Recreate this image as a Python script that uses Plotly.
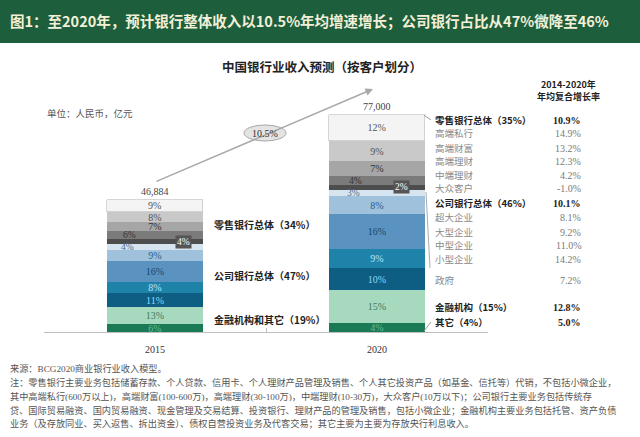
import plotly.graph_objects as go

# ---------------- data ----------------
years = ["2015", "2020"]
totals = [46884, 77000]
total_labels = ["46,884", "77,000"]
# segments, stacked bottom -> top
segments = ["其它", "金融机构", "政府", "小型企业", "中型企业", "大型企业",
            "超大企业", "大众客户", "中端理财", "高端理财", "高端财富", "高端私行"]
pct_2015 = [6, 13, 11, 8, 16, 9, 4, 4, 6, 7, 8, 9]
pct_2020 = [4, 15, 10, 9, 16, 8, 3, 2, 4, 7, 9, 12]
group_labels_2015 = ["零售银行总体（34%）", "公司银行总体（47%）", "金融机构和其它（19%）"]
cagr_rate = "10.5%"
list_header = ["2014-2020年", "年均复合增长率"]
list_labels = ["零售银行总体（35%）", "高端私行", "高端财富", "高端理财", "中端理财", "大众客户",
               "公司银行总体（46%）", "超大企业", "大型企业", "中型企业", "小型企业", "政府",
               "金融机构（15%）", "其它（4%）"]
list_values = ["10.9%", "14.9%", "13.2%", "12.3%", "4.2%", "-1.0%", "10.1%", "8.1%", "9.2%",
               "11.0%", "14.2%", "7.2%", "12.8%", "5.0%"]
list_bold = [True, False, False, False, False, False, True, False, False, False, False, False, True, True]

# ---------------- style ----------------
seg_colors = ["#1b7a56", "#a7d9bf", "#0e5d83", "#1f83a9", "#5a93bf", "#9fc1dc",
              "#d6e4ef", "#4d4d4d", "#7b7b7b", "#a6a6a6", "#c9c9c9", "#f4f4f4"]
seg_text_colors = ["#5fbf90", "#3f7a5f", "#8fd8f5", "#b5e3f5", "#17456e", "#2a5c8c",
                   "#4a6f92", "#ffffff", "#333333", "#333333", "#555555", "#555555"]
# small segments labelled outside the centre: (year index, segment index) -> xshift, boxed
callouts = {(0, 8): (-26, False), (0, 7): (28, True), (0, 6): (-28, False),
            (1, 8): (-22, False), (1, 7): (24, True), (1, 6): (-24, False)}
row_y_px = [120, 133, 148, 161, 175, 188, 203, 217, 232, 245, 259, 280, 307, 322]
header_y_px = [84, 96]

SERIF = "Liberation Serif, Noto Sans CJK SC, serif"
CJK = "Noto Sans CJK SC, Liberation Serif, sans-serif"

W, H = 640, 437
L, R, T, B = 44, 488, 70, 332
Y_MAX = 93000


def px(x):
    return (x - L) / (R - L)


def py(y):
    return (B - y) / (B - T)


pcts = [pct_2015, pct_2020]
values = [[totals[i] * p / sum(pcts[i]) for p in pcts[i]] for i in range(2)]

fig = go.Figure()
annotations = []
for j, seg in enumerate(segments):
    texts = []
    for i in range(2):
        if (i, j) in callouts:
            texts.append("")
        else:
            texts.append(f"{pcts[i][j]}%")
    fig.add_trace(go.Bar(
        x=years, y=[values[0][j], values[1][j]], name=seg,
        marker=dict(color=seg_colors[j],
                    line=dict(color="#bbbbbb" if j == len(segments) - 1 else seg_colors[j],
                              width=0.6 if j == len(segments) - 1 else 0)),
        text=texts, textposition="inside", insidetextanchor="middle", textangle=0,
        textfont=dict(family=SERIF, size=10, color=seg_text_colors[j]),
        width=0.43, showlegend=False, hoverinfo="skip",
    ))

# callout labels for the thin segments (x given as category index)
for (i, j), (xs, boxed) in callouts.items():
    mid = sum(values[i][:j]) + values[i][j] / 2
    annotations.append(dict(
        x=i, y=mid, xref="x", yref="y", text=f"{pcts[i][j]}%", showarrow=False,
        xshift=xs, xanchor="center", yanchor="middle",
        font=dict(family=SERIF, size=9.5, color="#ffffff" if boxed else seg_text_colors[j]),
        bgcolor="#555555" if boxed else "rgba(0,0,0,0)", borderpad=1,
    ))

# totals above bars
for i in range(2):
    annotations.append(dict(x=i, y=totals[i], xref="x", yref="y", text=total_labels[i],
                            showarrow=False, xanchor="center", yanchor="bottom", yshift=1,
                            font=dict(family=SERIF, size=10, color="#444444")))

# group labels beside 2015 bar
v15 = values[0]
groups = [(6, 12), (2, 7), (0, 2)]  # retail, corporate (incl. gov), FI & other
for g, (a, b) in enumerate(groups):
    mid = sum(v15[:a]) + sum(v15[a:b]) / 2
    annotations.append(dict(x=px(212), y=mid, xref="paper", yref="y", text=f"<b>{group_labels_2015[g]}</b>",
                            showarrow=False, xanchor="left", yanchor="middle",
                            font=dict(family=CJK, size=10, color="#222222")))

# growth arrow & bubble
annotations.append(dict(x=px(373), y=py(89), xref="paper", yref="paper", ax=155 - 373, ay=182 - 89,
                        showarrow=True, arrowhead=2, arrowsize=1, arrowwidth=1.5,
                        arrowcolor="#a8a8a8", text=""))
annotations.append(dict(x=px(265), y=py(133), xref="paper", yref="paper", text=cagr_rate,
                        showarrow=False, xanchor="center", yanchor="middle",
                        font=dict(family=SERIF, size=10, color="#333333")))

# title bar, chart title, unit
annotations.append(dict(x=px(8), y=py(20), xref="paper", yref="paper", xanchor="left", yanchor="middle",
                        text="<b>图1：至2020年，预计银行整体收入以10.5%年均增速增长；公司银行占比从47%微降至46%</b>",
                        showarrow=False, font=dict(family=CJK, size=14.5, color="#f3f0d6")))
annotations.append(dict(x=px(322), y=py(67), xref="paper", yref="paper", xanchor="center", yanchor="middle",
                        text="<b>中国银行业收入预测（按客户划分）</b>", showarrow=False,
                        font=dict(family=CJK, size=12.5, color="#222222")))
annotations.append(dict(x=px(45), y=py(113), xref="paper", yref="paper", xanchor="left", yanchor="middle",
                        text="单位：人民币，亿元", showarrow=False,
                        font=dict(family=CJK, size=9.5, color="#555555")))

# right column header and list
for k, htxt in enumerate(list_header):
    annotations.append(dict(x=px(568), y=py(header_y_px[k]), xref="paper", yref="paper",
                            xanchor="center", yanchor="middle", text=f"<b>{htxt}</b>", showarrow=False,
                            font=dict(family=CJK, size=9, color="#222222")))
for k, lab in enumerate(list_labels):
    bold = list_bold[k]
    annotations.append(dict(x=px(433), y=py(row_y_px[k]), xref="paper", yref="paper",
                            xanchor="left", yanchor="middle", showarrow=False,
                            text=f"<b>{lab}</b>" if bold else lab,
                            font=dict(family=CJK, size=9.5, color="#222222" if bold else "#8a8a8a")))
    annotations.append(dict(x=px(583), y=py(row_y_px[k]), xref="paper", yref="paper",
                            xanchor="right", yanchor="middle", showarrow=False,
                            text=f"<b>{list_values[k]}</b>" if bold else list_values[k],
                            font=dict(family=SERIF, size=10, color="#222222" if bold else "#7a7a7a")))

# footnote
foot = [
    "来源：BCG2020商业银行业收入模型。",
    "注：零售银行主要业务包括储蓄存款、个人贷款、信用卡、个人理财产品管理及销售、个人其它投资产品（如基金、信托等）代销，不包括小微企业，",
    "其中高端私行(600万以上)，高端财富(100-600万)，高端理财(30-100万)，中端理财(10-30万)，大众客户(10万以下)；公司银行主要业务包括传统存",
    "贷、国际贸易融资、国内贸易融资、现金管理及交易结算、投资银行、理财产品的管理及销售，包括小微企业；金融机构主要业务包括托管、资产负债",
    "业务（及存放同业、买入返售、拆出资金）、债权自营投资业务及代客交易；其它主要为主要为存放央行利息收入。",
]
foot_y = [368, 382, 396, 410, 423]
for k, line in enumerate(foot):
    annotations.append(dict(x=px(8), y=py(foot_y[k]), xref="paper", yref="paper",
                            xanchor="left", yanchor="middle",
                            text=line, showarrow=False,
                            font=dict(family=SERIF, size=9.2, color="#555555")))

shapes = [
    dict(type="rect", xref="paper", yref="paper", x0=px(0), x1=px(640), y0=py(0), y1=py(43),
         fillcolor="#1d5e3d", line=dict(width=0), layer="below"),
    dict(type="circle", xref="paper", yref="paper", x0=px(244), x1=px(286), y0=py(125), y1=py(141),
         fillcolor="#e4e4e4", line=dict(color="#a8a8a8", width=1)),
    dict(type="line", xref="paper", yref="paper", x0=px(424), y0=py(115), x1=px(431), y1=py(120),
         line=dict(color="#999999", width=1)),
    dict(type="line", xref="paper", yref="paper", x0=px(426), y0=py(192), x1=px(430), y1=py(268),
         line=dict(color="#aaaaaa", width=1)),
    dict(type="line", xref="paper", yref="paper", x0=px(424), y0=py(331), x1=px(431), y1=py(322),
         line=dict(color="#999999", width=1)),
]

fig.update_layout(
    width=W, height=H, autosize=False,
    margin=dict(l=L, r=W - R, t=T, b=H - B, pad=0),
    barmode="stack", bargap=0,
    paper_bgcolor="white", plot_bgcolor="white",
    uniformtext=dict(mode="show", minsize=10),
    xaxis=dict(type="category", range=[-0.5, 1.5], showline=True, linecolor="#bdbdbd", linewidth=1,
               ticks="inside", ticklen=4, tickcolor="#bdbdbd", tickson="boundaries",
               showgrid=False, zeroline=False, ticklabelstandoff=8,
               tickfont=dict(family=SERIF, size=10, color="#333333")),
    yaxis=dict(range=[0, Y_MAX], visible=False, showgrid=False, zeroline=False),
    annotations=annotations, shapes=shapes,
)

fig.write_html("out.html")
